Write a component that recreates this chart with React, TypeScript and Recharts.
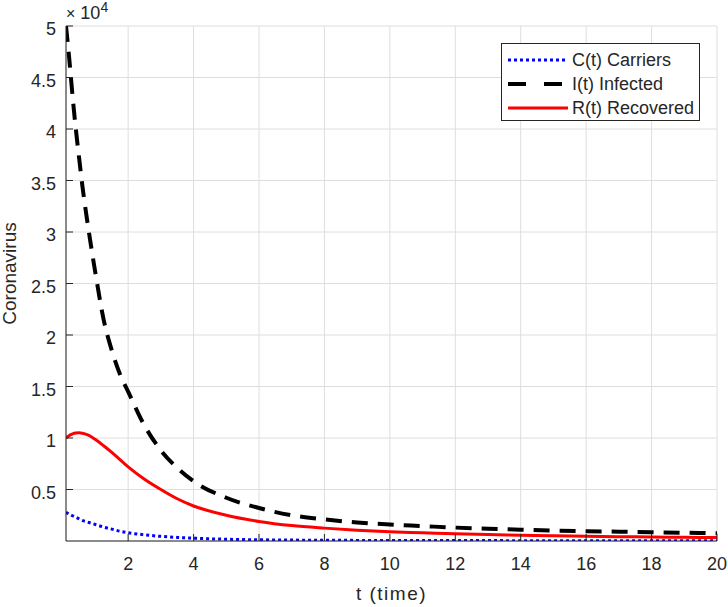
import { CartesianGrid, Line, LineChart, XAxis, YAxis } from "recharts";

// time points (t)
const tValues = [0.1, 0.2, 0.3, 0.4, 0.5, 0.6, 0.8, 1, 1.25, 1.5, 1.75, 2, 2.5, 3, 3.5, 4, 5, 6, 7, 8, 9, 10, 11, 12, 13, 14, 15, 16, 17, 18, 19, 20];

// C(t) Carriers
const carriers = [2800, 2600, 2450, 2300, 2150, 2000, 1800, 1600, 1350, 1150, 950, 800, 600, 450, 350, 270, 170, 120, 90, 70, 60, 50, 45, 40, 38, 35, 33, 32, 31, 30, 30, 30];

// I(t) Infected
const infected = [50000, 46800, 43200, 40000, 37200, 34500, 30000, 26000, 21500, 18500, 16200, 14500, 11200, 8800, 7100, 5800, 4200, 3200, 2500, 2100, 1800, 1600, 1450, 1300, 1200, 1100, 1000, 950, 900, 850, 800, 750];

// R(t) Recovered
const recovered = [10000, 10250, 10400, 10480, 10500, 10460, 10250, 9850, 9250, 8600, 7900, 7200, 6000, 5000, 4100, 3400, 2500, 1900, 1500, 1250, 1050, 900, 800, 700, 620, 560, 500, 460, 420, 390, 360, 330];

const xTicks = [2, 4, 6, 8, 10, 12, 14, 16, 18, 20];
const yTicks = [5000, 10000, 15000, 20000, 25000, 30000, 35000, 40000, 45000, 50000];

const data = tValues.map((t, i) => ({ t, C: carriers[i], I: infected[i], R: recovered[i] }));

const FONT = "'Liberation Sans', Arial, sans-serif";
const TXT = "#262626";

const LeftTick = (props: any) => {
  const { x, y, payload } = props;
  return (
    <g>
      <line x1={x + 10} y1={y} x2={x + 17} y2={y} stroke={TXT} strokeWidth={1} />
      <text x={x} y={y} dy={9} textAnchor="end" fill={TXT} fontSize={18} fontFamily={FONT}>
        {payload.value / 10000}
      </text>
    </g>
  );
};

const BottomTick = (props: any) => {
  const { x, y, payload } = props;
  return (
    <g>
      <line x1={x} y1={y - 16} x2={x} y2={y - 23} stroke={TXT} strokeWidth={1} />
      <text x={x} y={y} dy={13} textAnchor="middle" fill={TXT} fontSize={18} fontFamily={FONT}>
        {payload.value}
      </text>
    </g>
  );
};

const TopTick = (props: any) => {
  const { x, y } = props;
  return <line x1={x} y1={y} x2={x} y2={y + 7} stroke={TXT} strokeWidth={1} />;
};

const RightTick = (props: any) => {
  const { x, y } = props;
  return <line x1={x} y1={y} x2={x - 7} y2={y} stroke={TXT} strokeWidth={1} />;
};

const YLabel = (props: any) => {
  const { viewBox } = props;
  const cx = viewBox.x + 10;
  const cy = viewBox.y + viewBox.height / 2 - 10;
  return (
    <text x={cx} y={cy} dy={6} transform={`rotate(-90, ${cx}, ${cy})`} textAnchor="middle" fill={TXT} fontSize={19} fontFamily={FONT}>
      Coronavirus
    </text>
  );
};

const legendItems = [
  { name: "C(t) Carriers", color: "#0000ff", dash: "3 3", width: 3 },
  { name: "I(t) Infected", color: "#000000", dash: "18 18", width: 4 },
  { name: "R(t) Recovered", color: "#ff0000", dash: undefined, width: 3 },
];

export default function App() {
  return (
    <div style={{ position: "relative", width: 728, height: 607, fontFamily: FONT }}>
      <style>{`body{margin:0}`}</style>
      <LineChart width={728} height={607} data={data} margin={{ top: 26, right: 11, left: 0, bottom: 0 }}>
        <CartesianGrid stroke="#dedede" strokeWidth={1} />
        <XAxis
          dataKey="t"
          type="number"
          domain={[0.1, 20]}
          ticks={xTicks}
          height={66}
          tickSize={0}
          tickMargin={16}
          tick={BottomTick}
          axisLine={{ stroke: TXT }}
          allowDataOverflow
          label={{ value: "t (time)", position: "insideBottom", offset: 7, fill: TXT, fontSize: 19, fontFamily: FONT, letterSpacing: 1.5 }}
        />
        <XAxis
          xAxisId="top"
          orientation="top"
          type="number"
          domain={[0.1, 20]}
          ticks={xTicks}
          height={0}
          tickSize={0}
          tickMargin={0}
          tick={TopTick}
          axisLine={{ stroke: TXT }}
          allowDataOverflow
        />
        <YAxis
          type="number"
          domain={[0, 50000]}
          ticks={yTicks}
          width={66}
          tickSize={0}
          tickMargin={10}
          tick={LeftTick}
          axisLine={{ stroke: TXT }}
          allowDataOverflow
          label={<YLabel />}
        />
        <YAxis
          yAxisId="right"
          orientation="right"
          type="number"
          domain={[0, 50000]}
          ticks={yTicks}
          width={0}
          tickSize={0}
          tickMargin={0}
          tick={RightTick}
          axisLine={{ stroke: TXT }}
          allowDataOverflow
        />
        <Line type="monotone" dataKey="C" stroke="#0000ff" strokeWidth={3} strokeDasharray="3 3" dot={false} isAnimationActive={false} />
        <Line type="monotone" dataKey="I" stroke="#000000" strokeWidth={4} strokeDasharray="16 10" dot={false} isAnimationActive={false} />
        <Line type="monotone" dataKey="R" stroke="#ff0000" strokeWidth={3} dot={false} isAnimationActive={false} />
      </LineChart>
      <div style={{ position: "absolute", left: 66, top: 3, color: TXT, fontSize: 18, lineHeight: "20px", whiteSpace: "nowrap" }}>
        <span style={{ fontSize: 16 }}>×</span> 10<span style={{ fontSize: 14, position: "relative", top: -7 }}>4</span>
      </div>
      <div
        style={{
          position: "absolute",
          left: 501,
          top: 43,
          width: 199,
          height: 78,
          border: "1px solid #262626",
          background: "#ffffff",
          boxSizing: "border-box",
          padding: "4px 0 0 5px",
        }}
      >
        {legendItems.map((it) => (
          <div key={it.name} style={{ display: "flex", alignItems: "center", height: 24, color: TXT, fontSize: 18 }}>
            <svg width={62} height={10} style={{ marginRight: 3 }}>
              <line x1={1} y1={5} x2={61} y2={5} stroke={it.color} strokeWidth={it.width} strokeDasharray={it.dash} />
            </svg>
            <span>{it.name}</span>
          </div>
        ))}
      </div>
    </div>
  );
}
